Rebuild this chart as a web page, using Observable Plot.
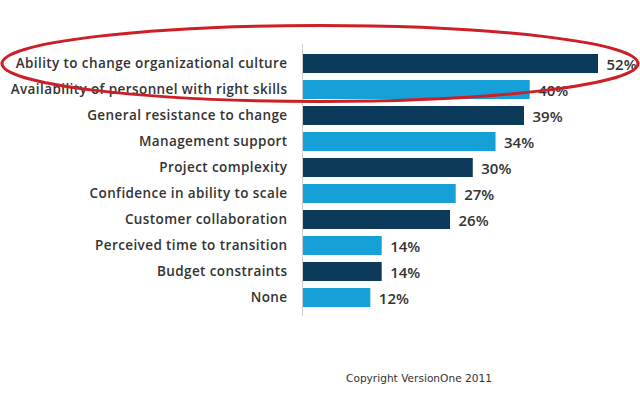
<!DOCTYPE html>
<html>
<head>
<meta charset="utf-8">
<script src="https://cdn.jsdelivr.net/npm/d3@7"></script>
<script src="https://cdn.jsdelivr.net/npm/@observablehq/plot@0.6"></script>
<style>
  html, body { margin: 0; padding: 0; background: #fff; }
  #wrap { position: relative; width: 640px; height: 396px; overflow: hidden; }
  #caption { position: absolute; left: 346px; top: 372px; font-family: "DejaVu Sans", Verdana, sans-serif; font-size: 10.6px; color: #333; margin: 0; white-space: nowrap; }
  g[aria-label="y-axis tick label"] text { letter-spacing: 0.4px; }
</style>
</head>
<body>
<div id="wrap">
  <div id="chart"></div>
  <p id="caption">Copyright VersionOne 2011</p>
</div>
<script>
const categories = [
  "Ability to change organizational culture",
  "Availability of personnel with right skills",
  "General resistance to change",
  "Management support",
  "Project complexity",
  "Confidence in ability to scale",
  "Customer collaboration",
  "Perceived time to transition",
  "Budget constraints",
  "None"
];
const values = [52, 40, 39, 34, 30, 27, 26, 14, 14, 12];
const shades = ["dark", "light", "dark", "light", "dark", "light", "dark", "light", "dark", "light"];

const data = categories.map((c, i) => ({category: c, value: values[i], shade: shades[i]}));

const chart = Plot.plot({
  width: 640,
  height: 396,
  marginLeft: 302,
  marginRight: 42,
  marginTop: 44,
  marginBottom: 80,
  style: {fontFamily: "'Open Sans', sans-serif", background: "#fff", color: "#333"},
  x: {domain: [0, 52], axis: null},
  y: {domain: categories, padding: 0.28, label: null},
  color: {domain: ["dark", "light"], range: ["#0b3a5a", "#15a1d7"]},
  marks: [
    Plot.barX(data, {y: "category", x: "value", fill: "shade"}),
    Plot.ruleX([0], {stroke: "#cfcfcf", strokeWidth: 1}),
    Plot.text(data, {
      y: "category", x: "value", text: d => d.value + "%",
      textAnchor: "start", dx: 8, dy: 1, fontSize: 15, fontWeight: 600, fill: "#333"
    }),
    Plot.axisY({tickSize: 0, tickPadding: 15, fontSize: 13.5, fontWeight: 600, fill: "#333", label: null})
  ]
});
document.getElementById("chart").appendChild(chart);

// red highlight ellipse around the top two rows (annotation)
const ys = chart.scale("y");
const cy = ys.apply(categories[0]) + ys.bandwidth / 2;
d3.select(chart).append("ellipse")
  .attr("cx", 320).attr("cy", cy)
  .attr("rx", 318).attr("ry", 38)
  .attr("fill", "none").attr("stroke", "#cc1f26").attr("stroke-width", 3);
</script>
</body>
</html>
